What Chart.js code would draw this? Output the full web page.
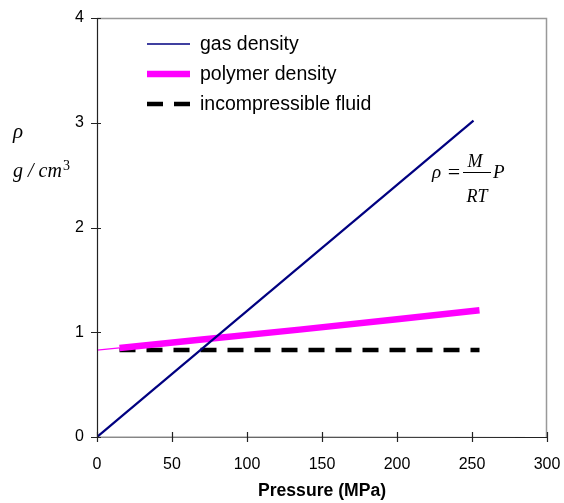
<!DOCTYPE html>
<html>
<head>
<meta charset="utf-8">
<script src="https://cdn.jsdelivr.net/npm/chart.js@4/dist/chart.umd.min.js"></script>
<style>
html,body{margin:0;padding:0;background:#fff;}
#wrap{width:564px;height:503px;}
</style>
</head>
<body>
<div id="wrap"><canvas id="c" width="564" height="503"></canvas></div>
<script>
// ---- data ----
const gasP = [0, 251];
const gasRho = [0, 3.02];
const polyThinP = [0, 15];
const polyThinRho = [0.83, 0.85];
const polyP = [15, 70, 135, 200, 255];
const polyRho = [0.85, 0.93, 1.025, 1.125, 1.21];
const fluidP = [15, 255];
const fluidRho = [0.83, 0.83];
const xTicks = [0, 50, 100, 150, 200, 250, 300];
const yTicks = [0, 1, 2, 3, 4];
const seriesNames = ['gas density', 'polymer density', 'incompressible fluid'];

const pts = (xs, ys) => xs.map((x, i) => ({x: x, y: ys[i]}));

const SANS = "'Liberation Sans', Arial, sans-serif";
const SERIF = "'Liberation Serif', 'Times New Roman', serif";

const decor = {
  id: 'decor',
  afterDraw(chart) {
    const ctx = chart.ctx;
    const a = chart.chartArea;
    const xs = chart.scales.x, ys = chart.scales.y;
    ctx.save();
    // grey frame top/right
    ctx.strokeStyle = '#999';
    ctx.lineWidth = 1.5;
    ctx.beginPath();
    ctx.moveTo(a.left, a.top + 0.5);
    ctx.lineTo(a.right - 0.5, a.top + 0.5);
    ctx.lineTo(a.right - 0.5, a.bottom);
    ctx.stroke();
    // axes
    ctx.strokeStyle = '#222';
    ctx.lineWidth = 1.2;
    ctx.beginPath();
    ctx.moveTo(a.left + 0.5, a.top);
    ctx.lineTo(a.left + 0.5, a.bottom);
    ctx.lineTo(a.right, a.bottom + 0.5);
    ctx.stroke();
    // crossing tick marks
    ctx.beginPath();
    xTicks.forEach(v => {
      const px = Math.round(xs.getPixelForValue(v)) + 0.5;
      ctx.moveTo(px, a.bottom - 5);
      ctx.lineTo(px, a.bottom + 5);
    });
    yTicks.forEach(v => {
      const py = Math.round(ys.getPixelForValue(v)) + 0.5;
      ctx.moveTo(a.left - 6, py);
      ctx.lineTo(a.left + 4, py);
    });
    ctx.stroke();

    // legend
    const ds = chart.data.datasets;
    const rows = [ds[0], ds[2], ds[3]];
    ctx.font = '19.5px ' + SANS;
    ctx.fillStyle = '#000';
    ctx.textBaseline = 'middle';
    ctx.textAlign = 'left';
    rows.forEach((d, i) => {
      const y = 44 + i * 30;
      ctx.beginPath();
      ctx.strokeStyle = d.borderColor;
      ctx.lineWidth = i === 0 ? 1.6 : d.borderWidth;
      ctx.setLineDash(d.borderDash || []);
      ctx.lineCap = 'butt';
      ctx.moveTo(147, y);
      ctx.lineTo(190, y);
      ctx.stroke();
      ctx.setLineDash([]);
      ctx.fillText(d.label, 200, y + 1);
    });

    // y axis title
    ctx.textBaseline = 'alphabetic';
    ctx.font = 'italic 21px ' + SERIF;
    ctx.fillText('\u03C1', 13, 138);
    ctx.font = 'italic 20px ' + SERIF;
    ctx.fillText('g / cm', 13, 177);
    const w = ctx.measureText('g / cm').width;
    ctx.font = '14px ' + SERIF;
    ctx.fillText('3', 13 + w + 1, 170);

    // formula
    ctx.font = 'italic 19px ' + SERIF;
    ctx.fillText('\u03C1', 432, 178);
    ctx.font = '22px ' + SERIF;
    ctx.textAlign = 'center';
    ctx.fillText('=', 454, 179);
    ctx.font = 'italic 18px ' + SERIF;
    ctx.fillText('M', 475, 167);
    ctx.fillText('RT', 477, 201.5);
    ctx.textAlign = 'left';
    ctx.font = 'italic 19px ' + SERIF;
    ctx.fillText('P', 493, 178);
    ctx.strokeStyle = '#000';
    ctx.lineWidth = 1;
    ctx.beginPath();
    ctx.moveTo(463, 172.5);
    ctx.lineTo(491, 172.5);
    ctx.stroke();
    ctx.restore();
  }
};

new Chart(document.getElementById('c'), {
  type: 'scatter',
  data: {
    datasets: [
      {label: seriesNames[0], data: pts(gasP, gasRho), showLine: true, borderColor: '#000080', borderWidth: 2.2, pointRadius: 0, order: 1},
      {label: '', data: pts(polyThinP, polyThinRho), showLine: true, borderColor: '#FF00FF', borderWidth: 1.2, pointRadius: 0, order: 2},
      {label: seriesNames[1], data: pts(polyP, polyRho), showLine: true, borderColor: '#FF00FF', borderWidth: 6.5, pointRadius: 0, order: 2},
      {label: seriesNames[2], data: pts(fluidP, fluidRho), showLine: true, borderColor: '#000000', borderWidth: 4.5, borderDash: [16, 11], borderCapStyle: 'butt', pointRadius: 0, order: 3}
    ]
  },
  options: {
    responsive: false,
    animation: false,
    layout: {padding: {top: 18, right: 17, left: 0, bottom: 0}},
    plugins: {legend: {display: false}, tooltip: {enabled: false}},
    scales: {
      x: {
        type: 'linear', min: 0, max: 300,
        afterBuildTicks: s => { s.ticks = xTicks.map(v => ({value: v})); },
        afterFit: s => { s.height = 66; s.paddingLeft = 0; s.paddingRight = 0; },
        grid: {display: false, drawOnChartArea: false},
        border: {display: false},
        ticks: {color: '#000', font: {family: SANS, size: 16}, padding: 10, maxRotation: 0},
        title: {display: true, text: 'Pressure (MPa)', color: '#000', font: {family: SANS, size: 17.6, weight: 'bold'}, padding: {top: 2, bottom: 1}}
      },
      y: {
        type: 'linear', min: 0, max: 4,
        afterBuildTicks: s => { s.ticks = yTicks.map(v => ({value: v})); },
        afterFit: s => { s.width = 97; s.paddingTop = 0; s.paddingBottom = 0; },
        grid: {display: false, drawOnChartArea: false},
        border: {display: false},
        ticks: {color: '#000', font: {family: SANS, size: 16}, padding: 5}
      }
    }
  },
  plugins: [decor]
});
</script>
</body>
</html>
